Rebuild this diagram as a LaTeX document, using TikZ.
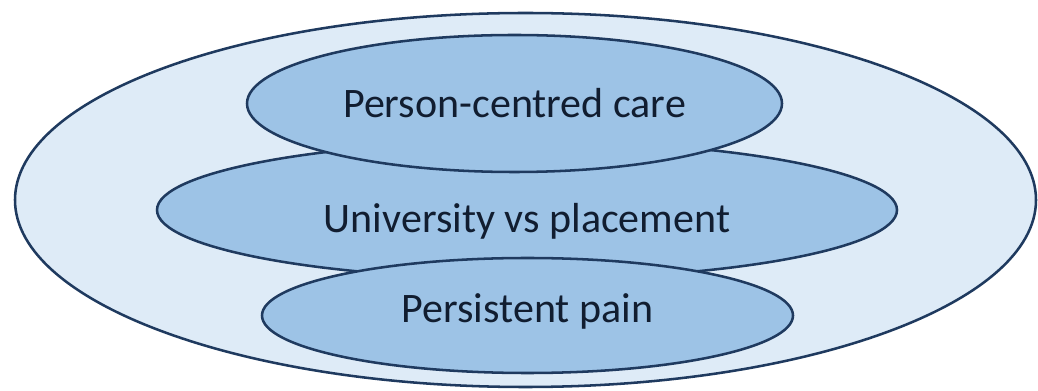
\documentclass[tikz,border=0pt]{standalone}
\usepackage{fontspec}
\setmainfont{Carlito}
\usepackage{xcolor}
\usepackage{tikz}
\usetikzlibrary{shapes,shapes.geometric}
\definecolor{rimblue}{HTML}{1F3A5F}
\definecolor{paleblue}{HTML}{DEEBF7}
\definecolor{midblue}{HTML}{9DC3E6}
\definecolor{inkblue}{HTML}{111D30}
\tikzset{
  ring/.style = {ellipse, draw=rimblue, line width=1.9pt, fill=paleblue, inner sep=0pt},
  topic/.style = {ellipse, draw=rimblue, line width=1.9pt, fill=midblue, inner sep=0pt,
                  text=inkblue, font=\fontsize{31.5}{37}\selectfont}
}
\begin{document}
\begin{tikzpicture}[x=0.75pt,y=-0.75pt]
  \useasboundingbox (0,0) rectangle (1038,391);
  \node[ring, minimum width=765.75pt, minimum height=280.5pt] (outer) at (525.5,200) {};
  \node[topic, minimum width=555pt, minimum height=103.5pt, text height=33.75pt, text depth=0pt] (uvp) at (527,210) {University vs placement};
  \node[topic, minimum width=401.25pt, minimum height=102.75pt, text height=21.75pt, text depth=0pt] (pcc) at (514.5,103.5) {Person-centred care};
  \node[topic, minimum width=398.25pt, minimum height=86.25pt, text height=22pt, text depth=10.75pt] (pain) at (527.5,315.5) {Persistent pain};
\end{tikzpicture}
\end{document}
